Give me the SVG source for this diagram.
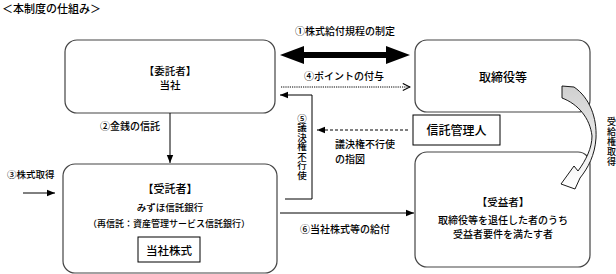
<svg xmlns="http://www.w3.org/2000/svg" width="616" height="274" viewBox="0 0 616 274">
<defs>
<style>
text{font-family:"Noto Sans CJK JP","Noto Sans CJK SC",sans-serif;fill:#000;font-weight:500;}
.box{fill:#fff;stroke:#444;stroke-width:1.2;}
.ln{fill:none;stroke:#000;stroke-width:1;}
.c{text-anchor:middle;}
</style>
<marker id="ah" viewBox="0 0 10 10" refX="10" refY="5" markerWidth="8" markerHeight="8" markerUnits="userSpaceOnUse" orient="auto">
<path d="M0,1 L10,5 L0,9 Z" fill="#000"/>
</marker>
<marker id="oh" viewBox="0 0 10 10" refX="9" refY="5" markerWidth="9" markerHeight="9" markerUnits="userSpaceOnUse" orient="auto">
<path d="M1,1 L9,5 L1,9" fill="none" stroke="#000" stroke-width="1.2"/>
</marker>
<linearGradient id="gr" x1="0" y1="0" x2="0" y2="1">
<stop offset="0" stop-color="#cfcfcf"/>
<stop offset="0.5" stop-color="#e8e8e8"/>
<stop offset="1" stop-color="#ffffff"/>
</linearGradient>
</defs>
<rect width="616" height="274" fill="#fff"/>
<text x="2" y="13" font-size="11">＜本制度の仕組み＞</text>

<g id="itakusha">
<rect class="box" x="65" y="40" width="210" height="73" rx="12"/>
<text class="c" x="170" y="75" font-size="10.5">【委託者】</text>
<text class="c" x="170" y="89" font-size="10.5">当社</text>
</g>
<g id="torishimariyaku">
<rect class="box" x="415" y="40" width="175" height="72" rx="12"/>
<text class="c" x="503" y="82" font-size="12">取締役等</text>
</g>
<g id="shintakukanrinin">
<rect x="413" y="115" width="87" height="30" fill="#fff" stroke="#000" stroke-width="1"/>
<text class="c" x="456.5" y="135" font-size="12">信託管理人</text>
</g>
<g id="jutakusha">
<rect class="box" x="63" y="164" width="214" height="109" rx="12"/>
<text class="c" x="170" y="193" font-size="11">【受託者】</text>
<text class="c" x="170" y="211" font-size="9.5">みずほ信託銀行</text>
<text class="c" x="169" y="227" font-size="9">（再信託：資産管理サービス信託銀行）</text>
<rect x="138" y="237" width="62" height="25" fill="#fff" stroke="#000" stroke-width="1"/>
<text class="c" x="169" y="255" font-size="11.5">当社株式</text>
</g>
<g id="juekisha">
<rect class="box" x="415" y="152" width="175" height="115" rx="12"/>
<text class="c" x="503" y="206" font-size="10.5">【受益者】</text>
<text class="c" x="503" y="224" font-size="10">取締役等を退任した者のうち</text>
<text class="c" x="503" y="238" font-size="10">受益者要件を満たす者</text>
</g>

<g id="connectors">
<!-- ① double arrow -->
<path d="M280,55 L304,46 L304,52 L386,52 L386,46 L410,55 L386,64 L386,58 L304,58 L304,64 Z" fill="#000"/>
<text class="c" x="345" y="35" font-size="10">①株式給付規程の制定</text>
<!-- ④ dotted -->
<text class="c" x="344" y="80" font-size="10">④ポイントの付与</text>
<line class="ln" x1="281" y1="87" x2="410" y2="87" stroke-dasharray="1.2 1" marker-end="url(#oh)"/>
<!-- ⑤ -->
<polyline class="ln" points="285,199 312,199 312,95 280,95" marker-end="url(#ah)"/>
<text class="c" font-size="9.5"><tspan x="302" y="121.5">⑤</tspan><tspan x="302" y="131">議</tspan><tspan x="302" y="140.5">決</tspan><tspan x="302" y="150">権</tspan><tspan x="302" y="159.5">不</tspan><tspan x="302" y="169">行</tspan><tspan x="302" y="178.5">使</tspan></text>
<!-- instruction dashed -->
<line class="ln" x1="408" y1="130" x2="317" y2="130" stroke-dasharray="3 2" marker-end="url(#ah)"/>
<text x="335" y="148" font-size="10">議決権不行使</text>
<text x="335" y="163" font-size="10">の指図</text>
<!-- ② -->
<line class="ln" x1="170" y1="113" x2="170" y2="163" marker-end="url(#ah)"/>
<text x="100" y="130" font-size="10">②金銭の信託</text>
<!-- ③ -->
<text x="7" y="178" font-size="9.5">③株式取得</text>
<line class="ln" x1="23" y1="193" x2="55" y2="193" marker-end="url(#ah)"/>
<!-- ⑥ -->
<line class="ln" x1="280" y1="213" x2="414" y2="213" marker-end="url(#ah)"/>
<text x="300" y="233" font-size="10">⑥当社株式等の給付</text>
<!-- curved arrow 受給権取得 -->
<path d="M562,86 L574,87 C590,98 597,118 596,138 C595,155 588,168 580,178 L575,189 L561,184 L574,166 L578,171 C586,160 592,148 592,136 C590,118 578,104 562,98 Z" fill="url(#gr)" stroke="#000" stroke-width="0.9" stroke-linejoin="miter"/>
<text class="c" font-size="9"><tspan x="611.5" y="125">受</tspan><tspan x="611.5" y="135">給</tspan><tspan x="611.5" y="145">権</tspan><tspan x="611.5" y="155">取</tspan><tspan x="611.5" y="165">得</tspan></text>
</g>
</svg>
